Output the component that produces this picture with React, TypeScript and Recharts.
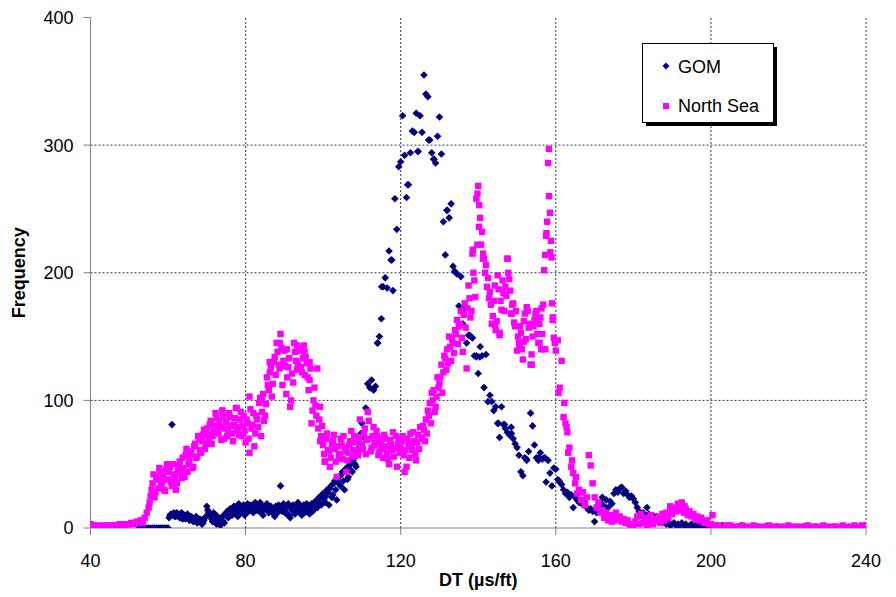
import React from "react";
import {
  ScatterChart,
  Scatter,
  XAxis,
  YAxis,
  ReferenceLine,
} from "recharts";

// DT histogram, GOM vs North Sea. Values on a 0.5 us/ft grid,
// one array per decade of DT, a second interleaved grid (x.25) where the cloud
// is thick, plus a few off-grid points.

const FONT = "'Liberation Sans', Arial, sans-serif";
const GOM_COLOR = "#000080";
const NS_COLOR = "#FF00FF";

const xTicks = [40, 80, 120, 160, 200, 240];
const yTicks = [0, 100, 200, 300, 400];
const xGrid = [80, 120, 160, 200, 240];
const yGrid = [100, 200, 300];

// GOM, step 0.5
const gom52 = [0, 0, 0, 0, 0, 0, 0, 0, 0, 0, 0, 0, 0, 0, 0];
const gom60 = [0, 10, 81, 12, 9, 11, 8, 12, 10, 7, 11, 6, 9, 5, 7, 4, 6, 5, 4, 8];
const gom70 = [17, 12, 9, 5, 11, 3, 7, 2, 9, 4, 12, 8, 15, 10, 17, 12, 9, 16, 13, 18];
const gom80 = [11, 19, 14, 17, 12, 20, 15, 13, 18, 10, 16, 19, 12, 17, 14, 9, 15, 18, 33, 13];
const gom90 = [16, 11, 19, 8, 14, 17, 12, 20, 15, 10, 18, 13, 16, 11, 19, 14, 21, 16, 24, 18];
const gom100 = [27, 20, 30, 18, 33, 26, 37, 22, 40, 33, 44, 30, 47, 40, 51, 44, 55, 48, 60, 66];
const gom110 = [82, 71, 94, 113, 110, 116, 108, 111, 145, 150, 164, 189, 196, 188, 217, 210, 186, 258, 234, 283];
const gom120 = [287, 323, 292, 259, 269, 294, 311, 310, 325, 295, 323, 310, 355, 340, 338, 304, 294, 289, 286, 307];
const gom130 = [322, 293, 240, 214, 249, 243, 254, 205, 201, 199, 174, 197, 160, 172, 145, 151, 150, 149, 135, 134];
const gom140 = [121, 142, 135, 110, 136, 99, 104, 99, 92, 95, 82, 71, 95, 81, 78, 75, 73, 79, 70, 66];
const gom150 = [63, 57, 44, 41, 55, 53, 60, 90, 80, 65, 55, 53, 59, 54, 55, 36, 53, 43, 33, 47];
const gom160 = [46, 38, 36, 34, 30, 27, 28, 24, 26, 16, 24, 22, 20, 22, 18, 20, 16, 14, 15, 13];
const gom170 = [5, 12, 18, 20, 24, 17, 22, 16, 21, 19, 27, 30, 28, 31, 32, 27, 29, 26, 24, 25];
const gom180 = [23, 20, 16, 13, 10, 12, 9, 16, 11, 8, 10, 7, 9, 5, 6, 4, 5, 3, 4, 2];
const gom190 = [3, 4, 2, 3, 2, 4, 2, 3, 1, 2, 3, 1, 2, 1, 2, 1, 2, 1, 1, 0];
// GOM, interleaved x.25 grid (60.25 .. 109.75)
const gomB60 = [8, 11, 10, 9, 12, 9, 11, 7, 10, 8, 9, 7, 8, 6, 9, 5, 7, 3, 6, 9];
const gomB70 = [14, 10, 7, 12, 6, 9, 4, 8, 5, 11, 13, 9, 12, 16, 11, 14, 19, 12, 15, 10];
const gomB80 = [16, 13, 18, 15, 19, 14, 17, 20, 13, 15, 18, 14, 16, 13, 11, 17, 12, 16, 14, 19];
const gomB90 = [13, 17, 10, 15, 18, 11, 16, 13, 17, 14, 12, 19, 15, 17, 13, 20, 17, 23, 19, 26];
const gomB100 = [22, 25, 28, 31, 24, 35, 30, 38, 34, 42, 37, 46, 38, 49, 45, 53, 50, 57, 63, 74];
// GOM, step 1 from 200
const gomTail = [1, 0, 1, 2, 0, 1, 0, 1, 2, 1, 0, 0, 1, 0, 1, 0, 0, 1, 0, 0, 1, 0, 0, 0, 1, 0, 0, 1, 0, 0, 0, 0, 1, 0, 0, 0, 0, 0, 0, 0, 0];
const gomExtra: [number, number][] = [
  [114.1, 145], [115.1, 189], [117.7, 210], [121.8, 269], [124.4, 295],
  [127.2, 304], [128.6, 289], [131.9, 249], [133.9, 201], [137.8, 151],
  [139.6, 135], [140.4, 134], [145.2, 82], [146.8, 81], [148.6, 74],
  [152.4, 54], [155.6, 55], [157.2, 55], [160.8, 37], [176.5, 31],
];

// North Sea, step 0.5
const ns40 = [3, 2, 2, 1, 2, 1, 1, 2, 1, 2, 2, 1, 2, 2, 2, 3, 2, 3, 2, 3];
const ns50 = [3, 4, 3, 4, 5, 4, 6, 4, 8, 12, 16, 25, 35, 24, 40, 31, 44, 36, 30, 46];
const ns60 = [38, 48, 33, 42, 30, 45, 52, 39, 47, 57, 44, 53, 60, 48, 66, 56, 70, 59, 73, 62];
const ns70 = [78, 68, 84, 72, 80, 86, 74, 79, 92, 70, 83, 77, 87, 74, 81, 94, 76, 85, 72, 88];
const ns80 = [67, 82, 59, 78, 90, 74, 85, 98, 72, 105, 88, 118, 108, 126, 113, 134, 145, 128, 152, 112];
const ns90 = [139, 105, 126, 95, 121, 145, 131, 128, 139, 122, 143, 134, 118, 116, 82, 100, 96, 125, 85, 72];
const ns100 = [65, 52, 74, 60, 55, 68, 62, 40, 58, 70, 54, 63, 44, 59, 68, 56, 72, 61, 57, 85];
const ns110 = [66, 74, 58, 91, 70, 63, 79, 67, 72, 60, 65, 55, 70, 59, 50, 66, 75, 62, 48, 70];
const ns120 = [63, 72, 44, 48, 66, 74, 61, 68, 53, 73, 79, 71, 77, 85, 92, 98, 106, 108, 95, 118];
const ns130 = [113, 128, 122, 133, 140, 150, 131, 145, 155, 163, 158, 170, 138, 176, 125, 190, 165, 215, 194, 258];
const ns140 = [268, 243, 232, 211, 206, 196, 185, 160, 178, 155, 198, 151, 171, 184, 189, 211, 195, 168, 176, 158];
const ns150 = [139, 145, 153, 132, 168, 173, 157, 128, 150, 163, 170, 145, 165, 152, 202, 229, 286, 247, 176, 149];
const ns160 = [139, 147, 110, 131, 87, 82, 75, 63, 48, 43, 35, 27, 30, 22, 28, 18, 24, 57, 49, 35];
const ns170 = [24, 16, 20, 12, 14, 8, 12, 6, 10, 5, 8, 12, 6, 9, 5, 7, 4, 6, 3, 2];
const ns180 = [2, 5, 9, 3, 11, 4, 8, 2, 6, 10, 3, 7, 5, 9, 4, 11, 6, 12, 8, 14];
const ns190 = [11, 16, 13, 18, 14, 17, 12, 15, 10, 13, 9, 11, 7, 9, 6, 8, 5, 4, 6, 3];
// North Sea, interleaved x.25 grid (55.25 .. 159.75)
const nsB55 = [20, 30, 42, 28, 38, 47, 34, 41, 29, 50];
const nsB60 = [44, 36, 50, 40, 35, 49, 43, 55, 40, 62, 50, 58, 47, 64, 55, 72, 61, 68, 77, 66];
const nsB70 = [73, 81, 66, 77, 90, 75, 83, 69, 87, 78, 72, 90, 80, 68, 86, 79, 73, 91, 80, 76];
const nsB80 = [85, 70, 93, 81, 64, 88, 79, 102, 91, 84, 97, 112, 122, 103, 130, 120, 138, 125, 141, 131];
const nsB90 = [127, 118, 133, 100, 114, 138, 124, 141, 126, 133, 120, 129, 108, 125, 92, 110, 88, 78, 68, 80];
const nsB100 = [58, 70, 61, 48, 66, 73, 52, 64, 57, 66, 72, 60, 53, 65, 76, 61, 67, 59, 71, 64];
const nsB110 = [62, 78, 69, 84, 60, 72, 65, 76, 57, 69, 62, 73, 64, 54, 69, 61, 56, 72, 66, 59];
const nsB120 = [68, 57, 61, 70, 55, 64, 75, 58, 67, 62, 70, 80, 68, 74, 88, 82, 100, 91, 103, 110];
const nsB130 = [118, 106, 135, 124, 129, 142, 148, 137, 152, 144, 160, 149, 167, 157, 172, 180, 170, 200, 181, 222];
const nsB140 = [253, 222, 215, 200, 189, 180, 175, 166, 190, 162, 187, 178, 194, 170, 182, 200, 186, 175, 161, 170];
const nsB150 = [150, 158, 140, 162, 148, 170, 160, 136, 158, 168, 152, 160, 140, 175, 214, 240, 260, 225, 165, 145];
// North Sea, step 1 from 200
const nsTail = [3, 2, 2, 1, 2, 2, 1, 1, 2, 1, 1, 2, 1, 1, 1, 2, 1, 1, 1, 1, 2, 1, 1, 1, 1, 2, 1, 1, 1, 2, 1, 1, 1, 1, 2, 1, 1, 2, 1, 2, 2];
const nsExtra: [number, number][] = [
  [157.6, 231], [158.2, 297], [158.6, 216], [158.9, 212], [157.3, 140],
  [159.2, 163], [160.7, 106], [162.2, 98], [162.8, 79], [163.2, 59],
  [164.2, 53], [165.2, 40], [141.2, 211], [140.2, 236], [139.8, 262],
  [138.6, 218], [143.7, 160], [144.3, 159], [145.5, 153], [147.6, 211],
  [148.6, 168], [150.7, 143], [151.7, 146], [153.8, 128], [155.8, 145],
  [156.3, 172], [88.8, 145], [86.2, 130], [90.6, 140], [93.2, 143],
  [95.2, 138], [84.3, 100], [81, 103], [74, 92], [77.7, 94],
  [96.5, 130], [99.2, 95], [100.4, 52], [104.1, 55], [191.5, 19],
  [192.5, 20], [193.2, 17], [189.5, 17], [200.4, 10],
];

type Pt = { dt: number; freq: number };
const seg = (start: number, step: number, vals: number[]): Pt[] =>
  vals.map((freq, i) => ({ dt: start + i * step, freq }));
const pairs = (p: [number, number][]): Pt[] => p.map(([dt, freq]) => ({ dt, freq }));

const gomData: Pt[] = [
  ...seg(52.5, 0.5, gom52),
  ...seg(60, 0.5, gom60),
  ...seg(70, 0.5, gom70),
  ...seg(80, 0.5, gom80),
  ...seg(90, 0.5, gom90),
  ...seg(100, 0.5, gom100),
  ...seg(110, 0.5, gom110),
  ...seg(120, 0.5, gom120),
  ...seg(130, 0.5, gom130),
  ...seg(140, 0.5, gom140),
  ...seg(150, 0.5, gom150),
  ...seg(160, 0.5, gom160),
  ...seg(170, 0.5, gom170),
  ...seg(180, 0.5, gom180),
  ...seg(190, 0.5, gom190),
  ...seg(60.25, 0.5, gomB60),
  ...seg(70.25, 0.5, gomB70),
  ...seg(80.25, 0.5, gomB80),
  ...seg(90.25, 0.5, gomB90),
  ...seg(100.25, 0.5, gomB100),
  ...seg(200, 1, gomTail),
  ...pairs(gomExtra),
];

const nsData: Pt[] = [
  ...seg(40, 0.5, ns40),
  ...seg(50, 0.5, ns50),
  ...seg(60, 0.5, ns60),
  ...seg(70, 0.5, ns70),
  ...seg(80, 0.5, ns80),
  ...seg(90, 0.5, ns90),
  ...seg(100, 0.5, ns100),
  ...seg(110, 0.5, ns110),
  ...seg(120, 0.5, ns120),
  ...seg(130, 0.5, ns130),
  ...seg(140, 0.5, ns140),
  ...seg(150, 0.5, ns150),
  ...seg(160, 0.5, ns160),
  ...seg(170, 0.5, ns170),
  ...seg(180, 0.5, ns180),
  ...seg(190, 0.5, ns190),
  ...seg(55.25, 0.5, nsB55),
  ...seg(60.25, 0.5, nsB60),
  ...seg(70.25, 0.5, nsB70),
  ...seg(80.25, 0.5, nsB80),
  ...seg(90.25, 0.5, nsB90),
  ...seg(100.25, 0.5, nsB100),
  ...seg(110.25, 0.5, nsB110),
  ...seg(120.25, 0.5, nsB120),
  ...seg(130.25, 0.5, nsB130),
  ...seg(140.25, 0.5, nsB140),
  ...seg(150.25, 0.5, nsB150),
  ...seg(200, 1, nsTail),
  ...pairs(nsExtra),
];

const Diamond = (p: any) => {
  const { cx, cy } = p;
  if (cx == null || cy == null) return <g />;
  const r = 3.8;
  return (
    <polygon
      points={`${cx},${cy - r} ${cx + r},${cy} ${cx},${cy + r} ${cx - r},${cy}`}
      fill={GOM_COLOR}
    />
  );
};

const Square = (p: any) => {
  const { cx, cy } = p;
  if (cx == null || cy == null) return <g />;
  const s = 6.4;
  return <rect x={cx - s / 2} y={cy - s / 2} width={s} height={s} fill={NS_COLOR} />;
};

// Legend box with the Excel-style drop shadow, laid over the plot
const LegendBox = () => (
  <svg
    width={136}
    height={84}
    style={{ position: "absolute", left: 642, top: 43 }}
  >
    <rect x={4} y={4} width={131} height={79} fill="#000" />
    <rect x={0.5} y={0.5} width={131} height={79} fill="#fff" stroke="#000" strokeWidth={1} />
    <polygon points="24,19.5 27.5,23 24,26.5 20.5,23" fill={GOM_COLOR} />
    <rect x={21} y={60} width={6} height={6} fill={NS_COLOR} />
    <text x={36} y={29.5} fontFamily={FONT} fontSize={18} fill="#000">
      GOM
    </text>
    <text x={36} y={68.5} fontFamily={FONT} fontSize={18} fill="#000">
      North Sea
    </text>
  </svg>
);

const tickStyle = { fill: "#000", fontSize: 18, fontFamily: FONT };

export default function App() {
  return (
    <div style={{ position: "absolute", left: 0, top: 0, width: 896, height: 597, background: "#fff" }}>
      <ScatterChart
        width={896}
        height={597}
        margin={{ top: 17.5, right: 30, bottom: 0, left: 0 }}
      >
        <XAxis
          type="number"
          dataKey="dt"
          domain={[40, 240]}
          ticks={xTicks}
          interval={0}
          allowDataOverflow
          height={69}
          tickSize={7}
          tickMargin={19}
          stroke="#808080"
          tick={tickStyle}
          label={{
            value: "DT (µs/ft)",
            position: "insideBottom",
            offset: 11,
            style: { fontFamily: FONT, fontSize: 18, fontWeight: "bold", fill: "#000" },
          }}
        />
        <YAxis
          type="number"
          dataKey="freq"
          domain={[0, 400]}
          ticks={yTicks}
          interval={0}
          allowDataOverflow
          width={90.5}
          tickSize={7}
          tickMargin={10}
          stroke="#808080"
          tick={tickStyle}
          label={{
            value: "Frequency",
            angle: -90,
            position: "insideLeft",
            offset: 19,
            style: {
              fontFamily: FONT,
              fontSize: 18,
              fontWeight: "bold",
              fill: "#000",
              textAnchor: "middle",
            },
          }}
        />
        {xGrid.map((v) => (
          <ReferenceLine key={`x${v}`} x={v} stroke="#333" strokeDasharray="2 2" strokeWidth={1} />
        ))}
        {yGrid.map((v) => (
          <ReferenceLine key={`y${v}`} y={v} stroke="#333" strokeDasharray="2 2" strokeWidth={1} />
        ))}
        <Scatter name="GOM" data={gomData} fill={GOM_COLOR} shape={Diamond} isAnimationActive={false} />
        <Scatter name="North Sea" data={nsData} fill={NS_COLOR} shape={Square} isAnimationActive={false} />
      </ScatterChart>
      <LegendBox />
    </div>
  );
}
